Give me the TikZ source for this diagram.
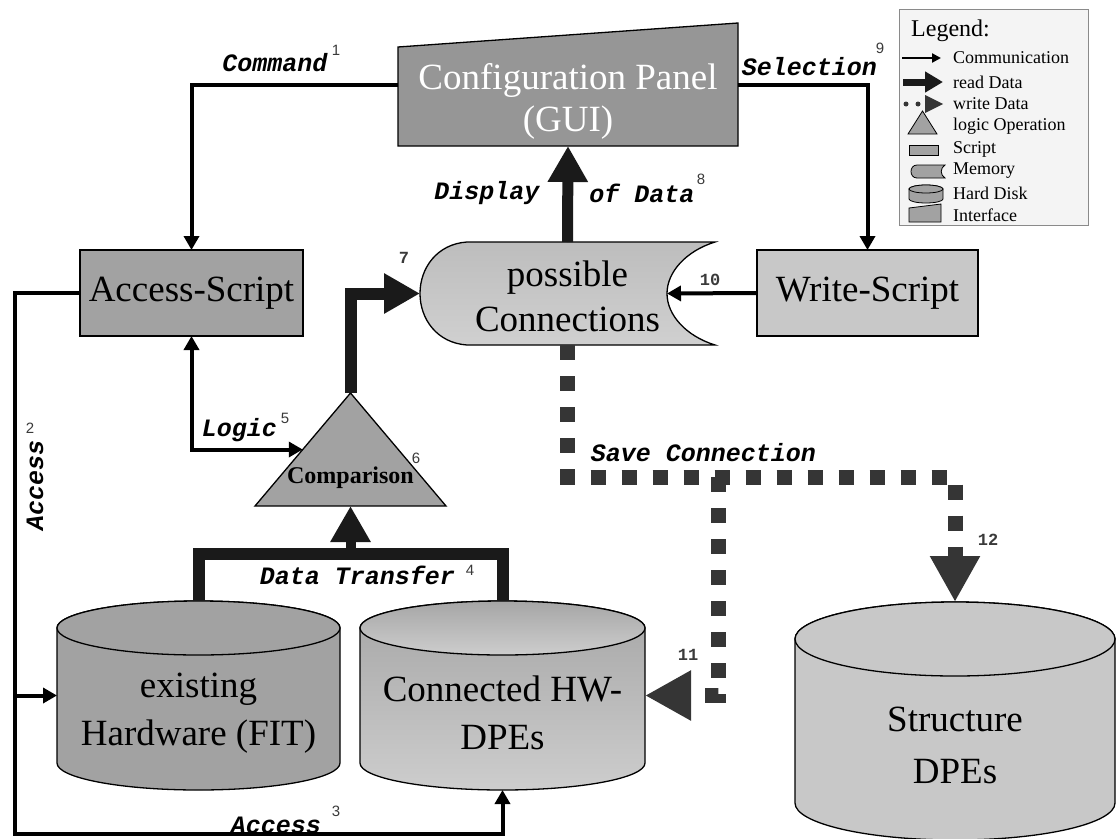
\documentclass[tikz,border=0pt]{standalone}
\usepackage{fontspec}
\setmainfont{Liberation Serif}
\setsansfont{Liberation Sans}
\setmonofont{Liberation Mono}
\usetikzlibrary{arrows.meta,calc}

\definecolor{panelgrey}{HTML}{969696}
\definecolor{boxgrey}{HTML}{A2A2A2}
\definecolor{lightgrey}{HTML}{C8C8C8}
\definecolor{readcol}{HTML}{1A1A1A}
\definecolor{writecol}{HTML}{353535}
\definecolor{numcol}{HTML}{3A3A3A}
\definecolor{legendbg}{HTML}{F4F4F4}
\definecolor{legendline}{HTML}{8A8A8A}
\definecolor{memtop}{HTML}{BDBDBD}
\definecolor{membot}{HTML}{D0D0D0}
\definecolor{disktop}{HTML}{A6A6A6}
\definecolor{diskbot}{HTML}{CDCDCD}

% cylinder: left x, right x, top centre y, bottom centre y, y radius, fill options
\newcommand{\drum}[6]{%
  \pgfmathsetmacro{\drumcx}{(#1+#2)/2}%
  \pgfmathsetmacro{\drumrx}{(#2-#1)/2}%
  \path[frame,#6] (#1,#3) -- (#1,#4)
    arc[start angle=180, end angle=0, x radius=\drumrx, y radius=#5]
    -- (#2,#3) arc[start angle=0, end angle=-180, x radius=\drumrx, y radius=#5] -- cycle;
  \path[frame,#6] (\drumcx,#3) ellipse[x radius=\drumrx, y radius=#5];
}

\tikzset{
  frame/.style={draw=black, line width=1.3pt},
  bound/.style={inner sep=0pt, outer sep=0pt},
  comm/.style={line width=4pt, black, -{Triangle[length=14pt,width=15pt]}},
  readline/.style={line width=12pt, readcol, line join=miter},
  readflow/.style={readline, -{Triangle[length=36pt,width=38pt]}},
  writeflow/.style={line width=15pt, writecol, dash pattern=on 15pt off 16pt,
                    -{Triangle[length=46pt,width=47pt]}},
  bigtext/.style={font=\fontsize{37}{48}\selectfont, align=center, inner sep=0pt},
  flowlbl/.style={font=\ttfamily\bfseries\itshape\fontsize{25}{30}\selectfont, inner sep=0pt},
  supnum/.style={font=\sffamily\fontsize{15}{18}\selectfont, text=numcol, inner sep=0pt},
  stepnum/.style={font=\ttfamily\bfseries\fontsize{17}{20}\selectfont, text=numcol, inner sep=0pt},
  legtext/.style={font=\fontsize{18}{20}\selectfont, anchor=west, inner sep=0pt},
}

\begin{document}
\begin{tikzpicture}[x=1pt,y=-1pt]
\useasboundingbox (0,0) rectangle (1116,838);

% ---------- outline nodes ----------
\node[bound, minimum width=340pt, minimum height=123pt] (panel) at (568,84.5) {};
\node[bound, minimum width=295pt, minimum height=103pt] (mem) at (567.5,293.5) {};
\node[bound, minimum width=191pt, minimum height=113pt] (cmp) at (350.5,449.5) {};
\node[bound, minimum width=283pt, minimum height=189pt] (exhw) at (198.5,695.5) {};
\node[bound, minimum width=285pt, minimum height=189pt] (conhw) at (502.5,695.5) {};
\node[bound, minimum width=318pt, minimum height=238pt] (struct) at (955,721) {};

% ---------- configuration panel (interface) ----------
\path[frame, fill=panelgrey] (panel.south west) -- (panel.south east)
  -- (panel.north east) -- ($(panel.north west)+(0,24)$) -- cycle;
\node[bigtext, text=white, font=\fontsize{37}{42}\selectfont] (paneltxt) at (568,101)
  {Configuration Panel\\(GUI)};

% ---------- scripts ----------
\node[frame, fill=boxgrey, bigtext, outer sep=0pt, minimum width=223pt, minimum height=86pt]
  (acc) at (191.5,293) {Access-Script};
\node[frame, fill=lightgrey, bigtext, outer sep=0pt, minimum width=221pt, minimum height=86pt]
  (wr) at (867.5,293) {Write-Script};

% ---------- memory: possible connections ----------
\path[frame, top color=memtop, bottom color=membot]
  (715,242) -- (467,242) .. controls (437,244) and (420,268) .. (420,293.5)
  .. controls (420,319) and (437,343) .. (467,345) -- (715,345)
  .. controls (686,336) and (667,315) .. (667,293.5)
  .. controls (667,272) and (686,251) .. (715,242) -- cycle;
\coordinate (memin) at (667,293.5);
\node[bigtext, font=\fontsize{37}{45}\selectfont] (memtxt) at (567.5,296) {possible\\Connections};

% ---------- comparison (logic operation) ----------
\path[frame, fill=boxgrey] (cmp.south west) -- (cmp.north) -- (cmp.south east) -- cycle;
\node[inner sep=0pt, font=\bfseries\fontsize{24}{28}\selectfont] (cmptxt) at (350.5,478) {Comparison};
\coordinate (cmpL) at ($(cmp.south west)!0.5!(cmp.north)$);

% ---------- hard disks ----------
\drum{57}{340}{628}{763}{27}{fill=boxgrey}
\drum{360}{645}{628}{763}{27}{top color=disktop, bottom color=diskbot}
\drum{795}{1115}{639}{803}{37}{fill=lightgrey}
\node[bigtext] (exhwtxt) at (198.5,713) {existing\\Hardware (FIT)};
\node[bigtext] (conhwtxt) at (502.5,713) {Connected HW-\\DPEs};
\node[bigtext, font=\fontsize{37}{52}\selectfont] (structtxt) at (955,745) {Structure\\DPEs};

% ---------- communication ----------
\draw[comm] (panel.west) -| (acc.north);
\draw[comm] (panel.east) -| (wr.north);
\draw[comm] (wr.west) -- (memin);
\draw[comm, {Triangle[length=14pt,width=15pt]}-{Triangle[length=14pt,width=15pt]}]
  (acc.south) |- (cmpL);
\coordinate (busT) at (15,293);
\coordinate (busB) at (15,834);
\draw[comm] (acc.west) -- (busT) -- (busB) -| (conhw.south);
\draw[comm] (busT |- exhw.west) -- (exhw.west);

% ---------- read data ----------
\coordinate (dtmid) at (350.5,554);
\draw[readline] (exhw.north) |- (dtmid) -| (conhw.north);
\draw[readflow, line width=10pt] (dtmid) -- (cmp.south);
\draw[readflow] (cmp.north) |- (mem.west);
\draw[readflow, line width=11pt] (mem.north) -- (panel.south);

% ---------- write data ----------
\coordinate (scY) at (0,477);
\coordinate (brTop) at (718,477);
\draw[writeflow] (mem.south) -- (mem.south |- scY) -| (struct.north);
\draw[writeflow] (brTop) |- (conhw.east);

% ---------- flow labels ----------
\node[flowlbl] (lcmd) at (275,63) {Command};
\node[supnum] (n1) at (336,50) {1};
\node[flowlbl] (lsel) at (809.5,67) {Selection};
\node[supnum] (n9) at (880,48) {9};
\node[flowlbl] (ldisp) at (487,193) {Display};
\node[flowlbl] (ldata) at (642,193) {of Data};
\node[supnum] (n8) at (701,179) {8};
\node[flowlbl] (llogic) at (239.5,430) {Logic};
\node[supnum] (n5) at (285,418) {5};
\node[supnum] (n6) at (416,458) {6};
\node[stepnum] (n7) at (404,258) {7};
\node[stepnum] (n10) at (710,280) {10};
\node[flowlbl] (ltrans) at (357.5,575) {Data Transfer};
\node[supnum] (n4) at (470,570) {4};
\node[flowlbl] (lsave) at (703.5,453) {Save Connection};
\node[stepnum] (n11) at (688,655) {11};
\node[stepnum] (n12) at (988,540) {12};
\node[flowlbl, rotate=90] (lacc2) at (35,485) {Access};
\node[supnum] (n2) at (30,428) {2};
\node[flowlbl] (lacc3) at (276,825) {Access};
\node[supnum] (n3) at (336,811) {3};

% ---------- legend ----------
\node[draw=legendline, line width=0.8pt, fill=legendbg, bound, minimum width=189pt, minimum height=216pt]
  (legend) at (993.5,117) {};
\node[anchor=west, inner sep=0pt, font=\fontsize{24}{26}\selectfont] (legtitle) at (911,31) {Legend:};
\draw[line width=2.5pt, -{Triangle[length=9pt,width=9pt]}] (902,58) -- (941,58);
\node[legtext] (lg1) at (953,58) {Communication};
\draw[line width=7pt, readcol, -{Triangle[length=18pt,width=20pt]}] (903,82) -- (943,82);
\node[legtext] (lg2) at (953,82) {read Data};
\fill[writecol] (906,104) circle[radius=2.5] (918,104) circle[radius=2.5];
\fill[writecol] (925,95) -- (943,104) -- (925,113) -- cycle;
\node[legtext] (lg3) at (953,104) {write Data};
\path[draw=black, line width=0.8pt, fill=boxgrey] (908,134) -- (922.5,111) -- (937,134) -- cycle;
\node[legtext] (lg4) at (953,126) {logic Operation};
\path[draw=black, line width=0.8pt, fill=boxgrey] (909,145) rectangle (938,155);
\node[legtext] (lg5) at (953,149) {Script};
\path[draw=black, line width=0.8pt, fill=boxgrey] (945,165) -- (917,165)
  .. controls (909,165) and (909,178) .. (917,178) -- (945,178)
  .. controls (940,175) and (940,168) .. (945,165) -- cycle;
\node[legtext] (lg6) at (953,171) {Memory};
\begin{scope}[frame/.style={draw=black, line width=0.8pt}]
\drum{909}{943}{189}{199}{4}{fill=boxgrey}
\end{scope}
\node[legtext] (lg7) at (953,193) {Hard Disk};
\path[draw=black, line width=0.8pt, fill=boxgrey] (909,208) -- (941,204) -- (941,222) -- (909,222) -- cycle;
\node[legtext] (lg8) at (953,215) {Interface};
\end{tikzpicture}
\end{document}
